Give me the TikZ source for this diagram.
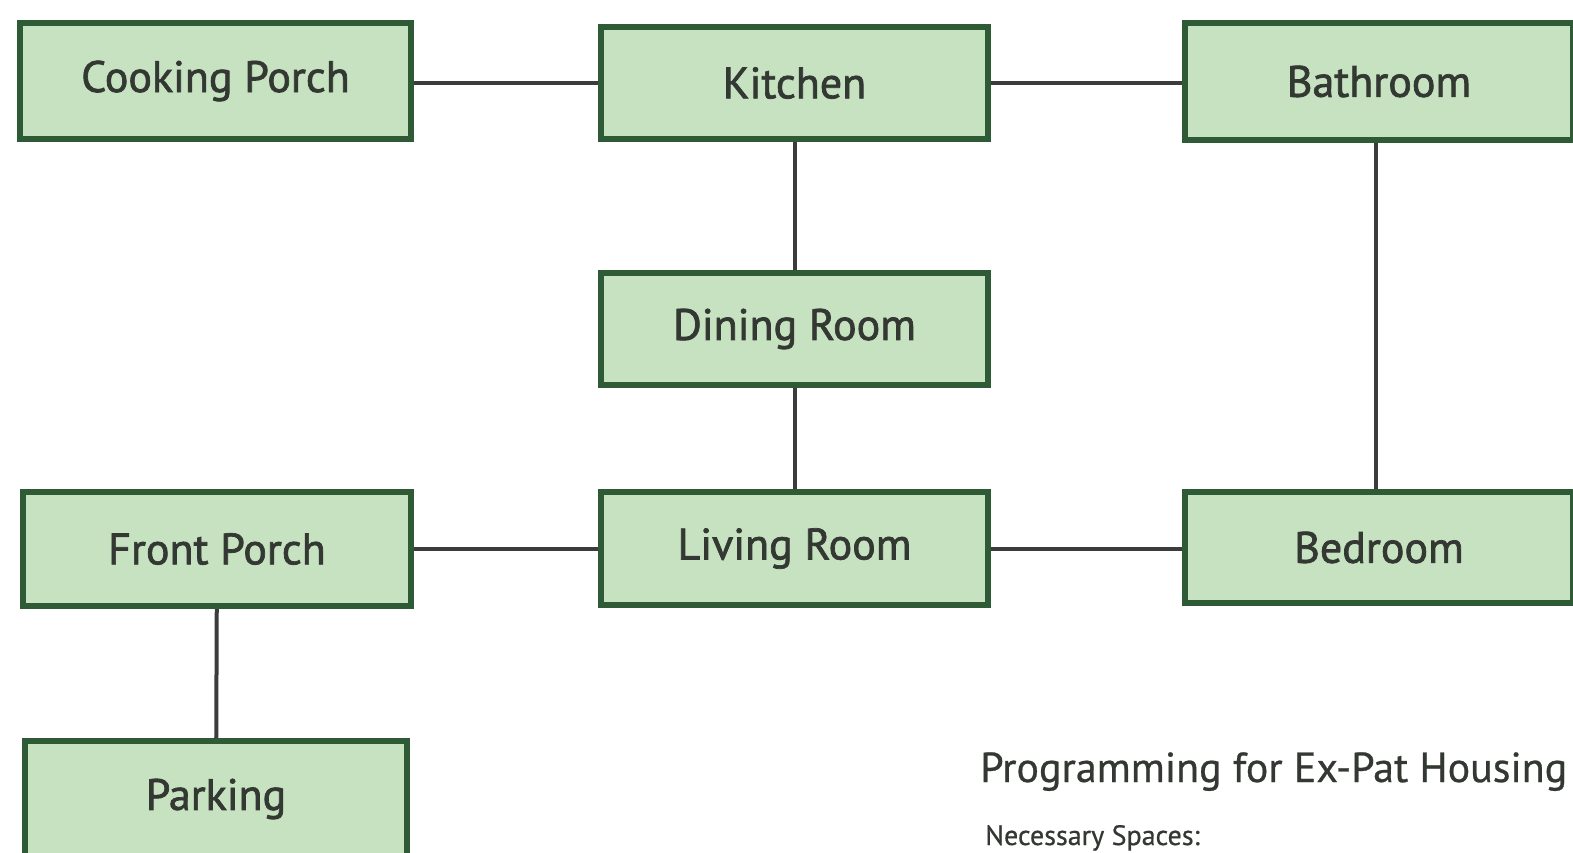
\documentclass[tikz,border=0pt]{standalone}
\usepackage{fontspec}
\setmainfont{PT Sans}[FakeBold=0.6]
\newfontfamily\semib{PT Sans}[FakeBold=1.6]
\definecolor{boxfill}{HTML}{C6E2C0}
\definecolor{boxedge}{HTML}{2E5B36}
\definecolor{linkcol}{HTML}{3C3C3C}
\definecolor{txt}{HTML}{333833}
\begin{document}
\begin{tikzpicture}[x=1pt,y=-1pt,
  room/.style={rectangle, draw=boxedge, fill=boxfill, line width=6pt,
    inner sep=0pt, text=txt, font=\semib\fontsize{44}{46}\selectfont},
  link/.style={draw=linkcol, line width=4pt},
  caption/.style={anchor=base west, inner sep=0pt, text=txt}]
\useasboundingbox (0,0) rectangle (1573,852);
\clip (0,0) rectangle (1573,852);
\fill[white] (0,0) rectangle (1573,852);
\node[room, minimum width=391pt, minimum height=116pt] (cook) at (215.5,81) {Cooking Porch};
\node[room, minimum width=387pt, minimum height=112pt] (kitchen) at (794.5,83) {Kitchen};
\node[room, minimum width=388pt, minimum height=117pt] (bath) at (1379,81.5) {Bathroom};
\node[room, minimum width=387pt, minimum height=112pt] (dining) at (794.5,329) {Dining Room};
\node[room, minimum width=387pt, minimum height=113pt] (living) at (794.5,548.5) {Living Room};
\node[room, minimum width=388pt, minimum height=114pt] (front) at (217,549) {Front Porch};
\node[room, minimum width=388pt, minimum height=111pt] (bed) at (1379,547.5) {Bedroom};
\node[room, minimum width=382pt, minimum height=116pt] (parking) at (216,799) {Parking};
\draw[link] (cook.east |- kitchen.west) -- (kitchen.west);
\draw[link] (kitchen.east) -- (kitchen.east -| bath.west);
\draw[link] (kitchen) -- (dining);
\draw[link] (dining) -- (living);
\draw[link] (bath.south -| 1376,0) -- (bed.north -| 1376,0);
\draw[link] (front.east |- living.west) -- (living.west);
\draw[link] (living.east) -- (living.east -| bed.west);
\draw[link] (front) -- (parking);
\node[caption, font=\fontsize{42}{44}\selectfont] (title) at (980,782) {Programming for Ex-Pat Housing};
\node[caption, font=\fontsize{28}{30}\selectfont] (sub) at (985,845) {Necessary Spaces:};
\end{tikzpicture}
\end{document}
